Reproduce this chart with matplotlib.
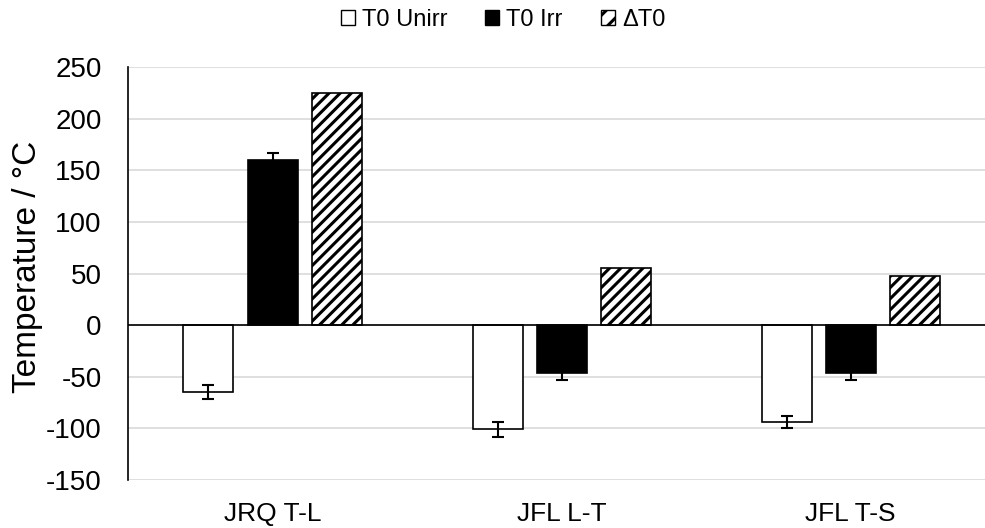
import numpy as np
import matplotlib
matplotlib.use("Agg")
import matplotlib.pyplot as plt
from matplotlib.patches import Patch

plt.rcParams['font.family'] = ['Liberation Sans', 'DejaVu Sans']
plt.rcParams['hatch.linewidth'] = 2.2
plt.rcParams['axes.unicode_minus'] = False

# data
categories = ["JRQ T-L", "JFL L-T", "JFL T-S"]
t0_unirr = [-65, -101, -94]
t0_unirr_err = [7, 7, 6]
t0_irr = [160, -46, -46]
t0_irr_err = [7, 7, 7]
delta_t0 = [225, 55, 48]
yticks = [-150, -100, -50, 0, 50, 100, 150, 200, 250]

fig = plt.figure(figsize=(9.85, 5.28), dpi=100)
ax = fig.add_axes([128 / 985, 48 / 528, 857 / 985, 413 / 528])

x = np.arange(len(categories))
w = 0.173
step = 0.2215
ekw = dict(ecolor="black", elinewidth=1.5, capsize=4, capthick=1.5)

ax.bar(x - step, t0_unirr, w, color="white", edgecolor="black", linewidth=1.2,
       yerr=t0_unirr_err, error_kw=ekw, zorder=3)
ax.bar(x, t0_irr, w, color="black", edgecolor="black", linewidth=1.2,
       yerr=t0_irr_err, error_kw=ekw, zorder=3)
ax.bar(x + step, delta_t0, w, color="white", edgecolor="black", linewidth=1.2,
       hatch="///", zorder=3)

ax.axhline(0, color="black", linewidth=1.2, zorder=4)

ax.set_ylim(-150, 250)
ax.set_xlim(-0.5, 2.465)
ax.set_yticks(yticks)
ax.set_xticks(x)
ax.set_xticklabels(categories)
ax.tick_params(axis="y", length=0, pad=19, labelsize=20)
ax.tick_params(axis="x", length=0, pad=16, labelsize=19)
ax.grid(axis="y", color="#d9d9d9", linewidth=1.2, zorder=0)
ax.set_axisbelow(True)
for s in ["top", "right", "bottom"]:
    ax.spines[s].set_visible(False)
ax.spines["left"].set_color("black")
ax.spines["left"].set_linewidth(1.2)

fig.text(28 / 985, 1 - 267 / 528, "Temperature / °C", rotation=90,
         ha="center", va="center", fontsize=24)

handles = [
    Patch(facecolor="white", edgecolor="black", linewidth=1, label="T0 Unirr"),
    Patch(facecolor="black", edgecolor="black", linewidth=1, label="T0 Irr"),
    Patch(facecolor="white", edgecolor="black", linewidth=1, hatch="//", label="ΔT0"),
]
fig.legend(handles=handles, loc="center", bbox_to_anchor=(503 / 985, 1 - 20 / 528),
           ncol=3, frameon=False, fontsize=17, handlelength=0.6, handleheight=0.6,
           handletextpad=0.3, columnspacing=1.6)

fig.savefig("out.png", dpi=100)
